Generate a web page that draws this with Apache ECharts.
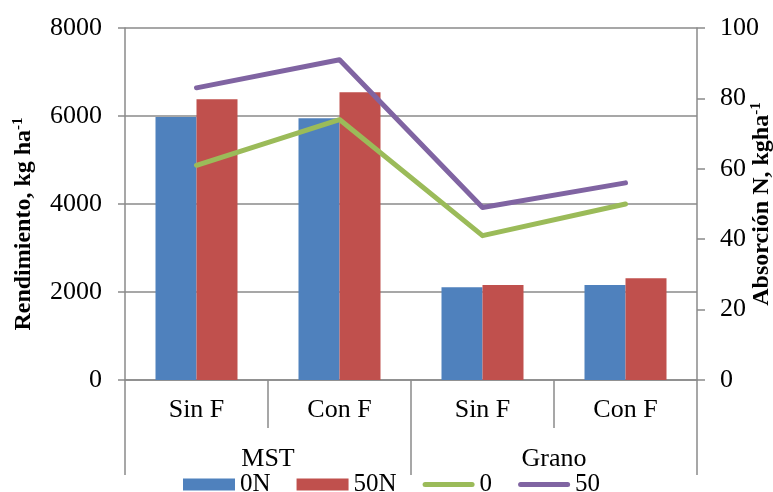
<!DOCTYPE html>
<html>
<head>
<meta charset="utf-8">
<script src="https://cdn.jsdelivr.net/npm/echarts@6/dist/echarts.min.js"></script>
<style>
  html, body { margin: 0; padding: 0; background: #ffffff; }
  #chart { width: 773px; height: 492px; }
</style>
</head>
<body>
<div id="chart"></div>
<script>
// Treatments (first level) and material (second level) of the category axis
const treatments = ['Sin F', 'Con F', 'Sin F', 'Con F'];
const materials = ['MST', 'Grano'];

// Yield, kg/ha (bars, left axis)
const yield0N = [5980, 5950, 2110, 2160];
const yield50N = [6380, 6540, 2160, 2310];

// N uptake, kg/ha (lines, right axis)
const uptake0 = [61, 74, 41, 50];
const uptake50 = [83, 91, 49, 56];

const serif = '"Liberation Serif", "Times New Roman", serif';
const gray = '#8a8a8a';
const black = '#000000';

const chart = echarts.init(document.getElementById('chart'), null, { renderer: 'canvas' });

const lineIcon = 'path://M2.5,0 L49.5,0 A2.5,2.5 0 0 1 49.5,5 L2.5,5 A2.5,2.5 0 0 1 2.5,0 Z';
const plain = (v) => String(v);

// Axis titles with a superscript exponent
const titleRich = {
  t: { fontFamily: serif, fontSize: 24, fontWeight: 'bold', fill: black, lineHeight: 26 },
  s: { fontFamily: serif, fontSize: 15, fontWeight: 'bold', fill: black, verticalAlign: 'top', lineHeight: 26, padding: [0, 0, 8, 0] }
};
const axisTitle = (text, x, y) => ({
  type: 'text',
  x: x,
  y: y,
  rotation: Math.PI / 2,
  style: { text: text, rich: titleRich, align: 'center', verticalAlign: 'middle' }
});

chart.setOption({
  animation: false,
  backgroundColor: '#ffffff',
  grid: { left: 125, right: 76, top: 28, bottom: 112, containLabel: false, outerBoundsMode: 'none' },
  graphic: [
    axisTitle('{t|Rendimiento, kg ha}{s|-1}', 24, 224),
    axisTitle('{t|Absorción N, kgha}{s|-1}', 762, 204)
  ],
  legend: {
    left: 183,
    top: 472,
    padding: 0,
    itemWidth: 52,
    itemHeight: 12,
    itemGap: 26,
    textStyle: { fontFamily: serif, fontSize: 25, color: black },
    data: [
      { name: '0N', icon: 'rect' },
      { name: '50N', icon: 'rect' },
      { name: '0', icon: lineIcon },
      { name: '50', icon: lineIcon }
    ]
  },
  xAxis: [
    {
      type: 'category',
      data: treatments,
      position: 'bottom',
      boundaryGap: true,
      axisLine: { show: true, lineStyle: { color: gray, width: 1.5 } },
      axisTick: { show: true, length: 48, lineStyle: { color: gray, width: 1.5 } },
      axisLabel: { margin: 17, fontFamily: serif, fontSize: 26, color: black }
    },
    {
      type: 'category',
      data: materials,
      position: 'bottom',
      boundaryGap: true,
      axisLine: { show: false },
      axisTick: { show: true, length: 95, lineStyle: { color: gray, width: 1.5 } },
      axisLabel: { margin: 66, fontFamily: serif, fontSize: 26, color: black }
    }
  ],
  yAxis: [
    {
      type: 'value',
      min: 0,
      max: 8000,
      interval: 2000,
      position: 'left',
      axisLine: { show: true, lineStyle: { color: gray, width: 1.5 } },
      axisTick: { show: true, length: 7, lineStyle: { color: gray, width: 1.5 } },
      axisLabel: { margin: 23, fontFamily: serif, fontSize: 26, color: black, formatter: plain },
      splitLine: { show: true, lineStyle: { color: gray, width: 1.5 } }
    },
    {
      type: 'value',
      min: 0,
      max: 100,
      interval: 20,
      position: 'right',
      axisLine: { show: true, lineStyle: { color: gray, width: 1.5 } },
      axisTick: { show: true, length: 8, lineStyle: { color: gray, width: 1.5 } },
      axisLabel: { margin: 23, fontFamily: serif, fontSize: 26, color: black, formatter: plain },
      splitLine: { show: false }
    }
  ],
  series: [
    {
      name: '0N', type: 'bar', xAxisIndex: 0, yAxisIndex: 0,
      data: yield0N, barWidth: 41, barGap: '0%',
      itemStyle: { color: '#4F81BD' }
    },
    {
      name: '50N', type: 'bar', xAxisIndex: 0, yAxisIndex: 0,
      data: yield50N, barWidth: 41, barGap: '0%',
      itemStyle: { color: '#C0504D' }
    },
    {
      name: '0', type: 'line', xAxisIndex: 0, yAxisIndex: 1,
      data: uptake0, symbol: 'none', z: 5,
      itemStyle: { color: '#9BBB59' },
      lineStyle: { color: '#9BBB59', width: 5, cap: 'round', join: 'round' }
    },
    {
      name: '50', type: 'line', xAxisIndex: 0, yAxisIndex: 1,
      data: uptake50, symbol: 'none', z: 5,
      itemStyle: { color: '#8064A2' },
      lineStyle: { color: '#8064A2', width: 5, cap: 'round', join: 'round' }
    }
  ]
});
</script>
</body>
</html>
